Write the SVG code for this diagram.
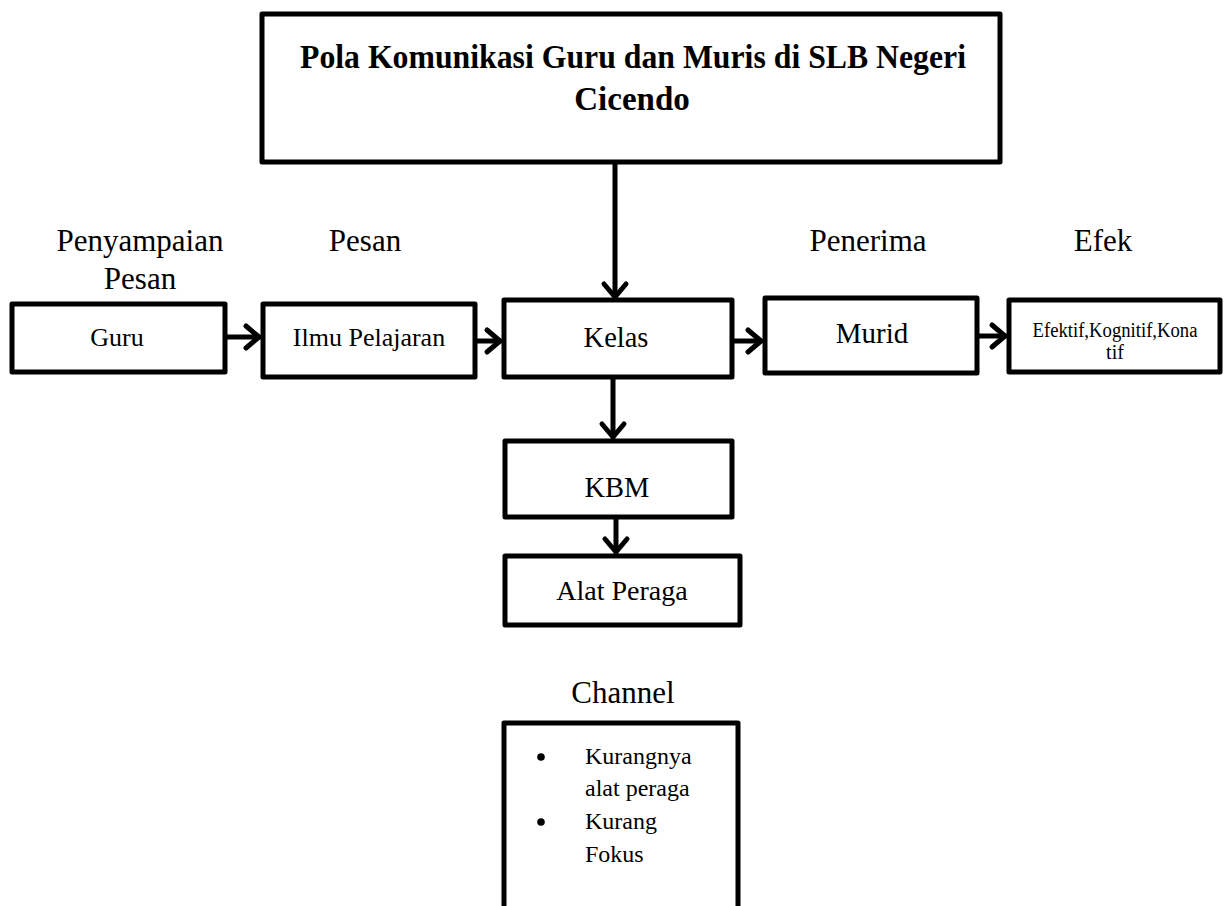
<svg xmlns="http://www.w3.org/2000/svg" width="1230" height="906" viewBox="0 0 1230 906">
<style>
.box{fill:#fff;stroke:#000;stroke-width:5;stroke-linejoin:round}
.t{font-family:"Liberation Serif","Times New Roman",serif;fill:#000;text-anchor:middle}
.lbl{font-size:31px}
.conn{fill:none;stroke:#000;stroke-width:5;stroke-linecap:round}
</style>
<defs>
<marker id="ah" markerUnits="userSpaceOnUse" markerWidth="30" markerHeight="30" viewBox="-20 -15 30 30" refX="0" refY="0" orient="auto">
<polyline points="-13,-11 0,0 -13,11" fill="none" stroke="#000" stroke-width="5" stroke-linecap="round" stroke-linejoin="round"/>
</marker>
</defs>
<rect width="1230" height="906" fill="#fff"/>
<g id="connectors">
<line class="conn" x1="615" y1="164" x2="615" y2="297" marker-end="url(#ah)"/>
<line class="conn" x1="227" y1="337" x2="259" y2="337" marker-end="url(#ah)"/>
<line class="conn" x1="477" y1="341" x2="500" y2="341" marker-end="url(#ah)"/>
<line class="conn" x1="731" y1="341" x2="761" y2="341" marker-end="url(#ah)"/>
<line class="conn" x1="979" y1="336" x2="1005" y2="336" marker-end="url(#ah)"/>
<line class="conn" x1="613" y1="379" x2="613" y2="437" marker-end="url(#ah)"/>
<line class="conn" x1="616" y1="519" x2="616" y2="552" marker-end="url(#ah)"/>
</g>
<g id="title">
<rect class="box" x="262" y="14" width="738" height="148"/>
<text class="t" x="633" y="68" font-size="33" font-weight="bold" textLength="666" lengthAdjust="spacingAndGlyphs">Pola Komunikasi Guru dan Muris di SLB Negeri</text>
<text class="t" x="632" y="110" font-size="33" font-weight="bold">Cicendo</text>
</g>
<g id="labels">
<text class="t lbl" x="140" y="251">Penyampaian</text>
<text class="t lbl" x="140" y="289">Pesan</text>
<text class="t lbl" x="365" y="251">Pesan</text>
<text class="t lbl" x="868" y="251">Penerima</text>
<text class="t lbl" x="1103" y="251">Efek</text>
<text class="t lbl" x="623" y="703">Channel</text>
</g>
<g id="guru">
<rect class="box" x="12" y="304" width="213" height="68"/>
<text class="t" x="117" y="346" font-size="26">Guru</text>
</g>
<g id="ilmu">
<rect class="box" x="263" y="304" width="212" height="73"/>
<text class="t" x="369" y="346" font-size="26">Ilmu Pelajaran</text>
</g>
<g id="kelas">
<rect class="box" x="504" y="300" width="228" height="77"/>
<text class="t" x="616" y="347" font-size="28.5">Kelas</text>
</g>
<g id="murid">
<rect class="box" x="765" y="298" width="212" height="75"/>
<text class="t" x="872" y="343" font-size="29">Murid</text>
</g>
<g id="efek">
<rect class="box" x="1009" y="300" width="211" height="72"/>
<text class="t" x="1115" y="337" font-size="20" textLength="165" lengthAdjust="spacingAndGlyphs">Efektif,Kognitif,Kona</text>
<text class="t" x="1115" y="359" font-size="20">tif</text>
</g>
<g id="kbm">
<rect class="box" x="505" y="441" width="227" height="76"/>
<text class="t" x="617" y="497" font-size="28.5">KBM</text>
</g>
<g id="alat">
<rect class="box" x="505" y="556" width="235" height="69"/>
<text class="t" x="622" y="600" font-size="28">Alat Peraga</text>
</g>
<g id="channel">
<path class="box" d="M504,912 V723 H738 V912"/>
<g font-family="'Liberation Serif','Times New Roman',serif" font-size="24" fill="#000">
<circle cx="541" cy="757" r="3.8"/>
<text x="585" y="764">Kurangnya</text>
<text x="585" y="796">alat peraga</text>
<circle cx="541" cy="822" r="3.8"/>
<text x="585" y="829">Kurang</text>
<text x="585" y="862">Fokus</text>
</g>
</g>
</svg>
